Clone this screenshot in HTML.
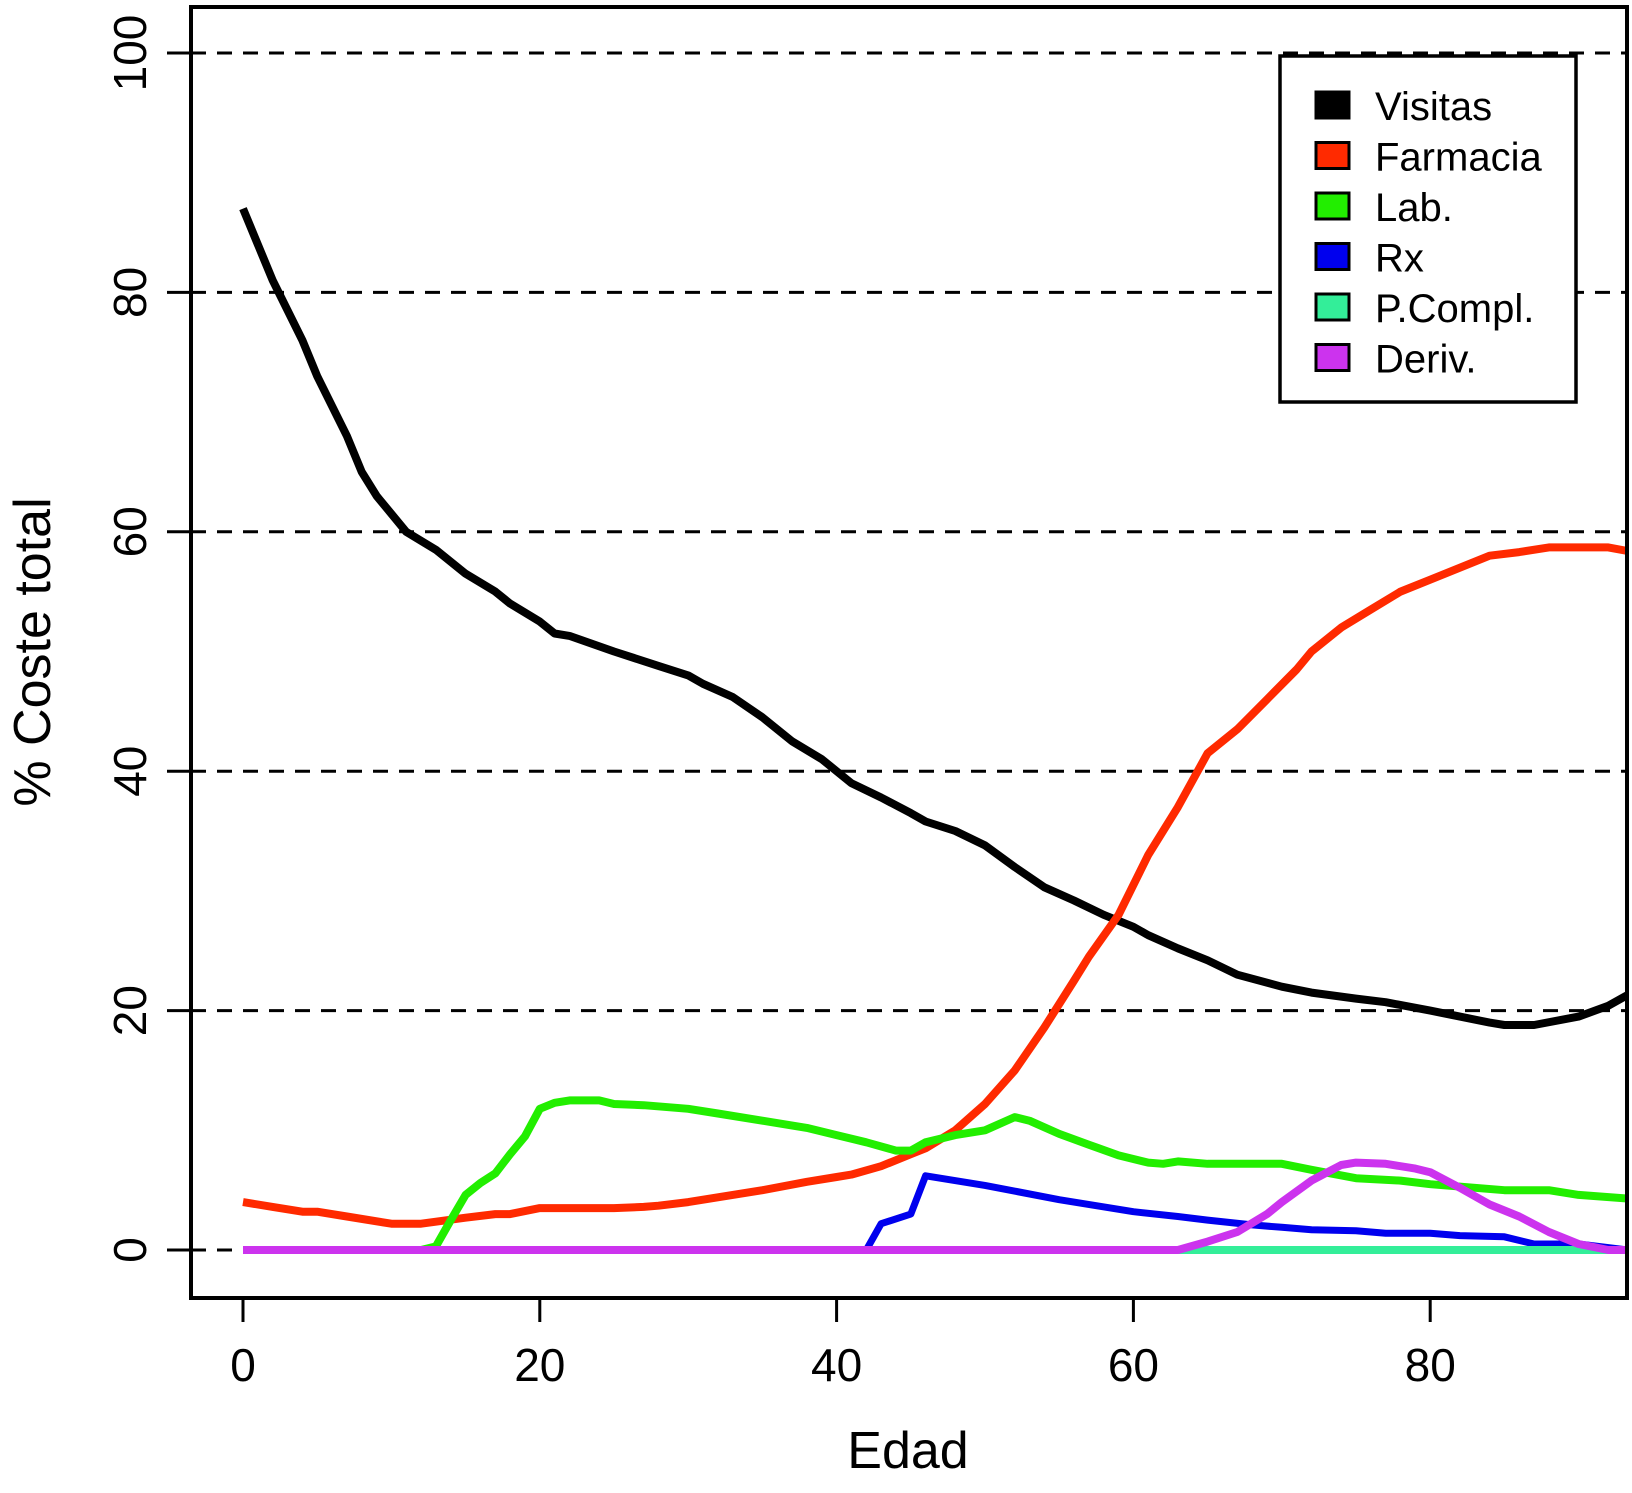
<!DOCTYPE html>
<html><head><meta charset="utf-8"><style>
html,body{margin:0;padding:0;background:#fff}
svg{display:block;font-family:"Liberation Sans",Arial,sans-serif}
</style></head><body>
<svg id="chart" width="1632" height="1493" viewBox="0 0 1632 1493"></svg>
<script>
const xTicks=[0,20,40,60,80];
const yTicks=[0,20,40,60,80,100];
const seriesNames=["Visitas","Farmacia","Lab.","Rx","P.Compl.","Deriv."];
const seriesColors=["#000000","#ff2a00","#22ee00","#0000ee","#33ee99","#cc33ee"];
const visitasX=[0,2,4,5,7,8,9,11,13,15,17,18,20,21,22,25,28,30,31,33,35,37,39,40,41,43,45,46,48,50,52,54,56,58,60,61,63,65,67,70,72,75,77,80,82,84,85,87,90,92,93.3];
const visitasY=[87,81,76,73,68,65,63,60,58.5,56.5,55,54,52.5,51.5,51.3,50,48.8,48,47.3,46.2,44.5,42.5,41,40,39,37.8,36.5,35.8,35,33.8,32,30.3,29.2,28,27,26.3,25.2,24.2,23,22,21.5,21,20.7,20,19.5,19,18.8,18.8,19.5,20.4,21.3];
const farmaciaX=[0,2,4,5,7,10,12,15,17,18,20,25,27,28,30,33,35,38,40,41,43,45,46,48,50,52,54,56,57,59,61,63,65,67,69,71,72,74,76,78,80,82,84,86,88,90,92,93.3];
const farmaciaY=[4,3.6,3.2,3.2,2.8,2.2,2.2,2.7,3,3,3.5,3.5,3.6,3.7,4,4.6,5,5.7,6.1,6.3,7,8,8.5,10,12.2,15,18.6,22.5,24.5,28,33,37,41.5,43.5,46,48.5,50,52,53.5,55,56,57,58,58.3,58.7,58.7,58.7,58.4];
const labX=[0,12,13,14,15,16,17,18,19,20,21,22,24,25,27,30,32,35,38,40,42,44,45,46,48,50,52,53,55,57,59,61,62,63,65,70,72,75,78,80,85,88,90,93.3];
const labY=[0,0,0.3,2.5,4.6,5.6,6.4,8,9.5,11.8,12.3,12.5,12.5,12.2,12.1,11.8,11.4,10.8,10.2,9.6,9,8.3,8.3,9,9.6,10,11.1,10.8,9.7,8.8,7.9,7.3,7.2,7.4,7.2,7.2,6.7,6,5.8,5.5,5,5,4.6,4.3];
const rxX=[0,42,43,45,46,50,55,60,63,65,68,70,72,75,77,80,82,85,87,90,93.3];
const rxY=[0,0,2.2,3,6.2,5.4,4.2,3.2,2.8,2.5,2.1,1.9,1.7,1.6,1.4,1.4,1.2,1.1,0.5,0.5,0];
const pcomplX=[0,93.3];
const pcomplY=[0,0];
const derivX=[0,63,65,67,69,70,72,74,75,77,79,80,82,84,86,88,90,92,93.3];
const derivY=[0,0,0.7,1.5,3,4,5.8,7.1,7.3,7.2,6.8,6.5,5.2,3.8,2.8,1.5,0.5,0,0];

const X0=243,XS=14.84,Y0=1250,YS=11.97;
const L=191,R=1627,T=7,B=1298;
const sx=v=>X0+v*XS, sy=v=>Y0-v*YS;
const svg=document.getElementById('chart');
const NS='http://www.w3.org/2000/svg';
function mk(tag,attrs,parent){const e=document.createElementNS(NS,tag);for(const k in attrs)e.setAttribute(k,attrs[k]);(parent||svg).appendChild(e);return e;}

const defs=mk('defs',{});
const cp=mk('clipPath',{id:'clip'},defs);
mk('rect',{x:L,y:T,width:R-L,height:B-T},cp);

const grid=mk('g',{'clip-path':'url(#clip)'});


yTicks.forEach(v=>{
  const l=mk('line',{x1:L,x2:R,y1:sy(v),y2:sy(v),stroke:'#000','stroke-width':3,'stroke-dasharray':'15 11'},grid);
  
  
});

const xs=[visitasX,farmaciaX,labX,rxX,pcomplX,derivX];
const ys=[visitasY,farmaciaY,labY,rxY,pcomplY,derivY];
const lines=mk('g',{'clip-path':'url(#clip)'});


[0,1,2,3,4,5].forEach(i=>{
  const pts=xs[i].map((x,j)=>sx(x).toFixed(1)+','+sy(ys[i][j]).toFixed(1)).join(' ');
  const p=mk('polyline',{points:pts,fill:'none',stroke:seriesColors[i],'stroke-width':i==3?7:8,'stroke-linejoin':'round'},lines);
  
  
});

const box=mk('rect',{x:L,y:T,width:R-L,height:B-T,fill:'none',stroke:'#000','stroke-width':4});



xTicks.forEach(v=>{
  const t=mk('line',{x1:sx(v),x2:sx(v),y1:B,y2:B+24,stroke:'#000','stroke-width':3});
  
  
  const tx=mk('text',{x:sx(v),y:1381,'font-size':46,'text-anchor':'middle'});
  tx.textContent=v;
  
  
});
yTicks.forEach(v=>{
  const t=mk('line',{x1:L-24,x2:L,y1:sy(v),y2:sy(v),stroke:'#000','stroke-width':3});
  
  
  const tx=mk('text',{x:146,y:sy(v),'font-size':46,'text-anchor':'middle',transform:'rotate(-90 146 '+sy(v)+')'});
  tx.textContent=v;
  
  
});

const xt=mk('text',{x:908,y:1468,'font-size':52,'text-anchor':'middle'});
xt.textContent='Edad';


const yt=mk('text',{x:50,y:652,'font-size':52,'text-anchor':'middle',transform:'rotate(-90 50 652)'});
yt.textContent='% Coste total';



const lg=mk('g',{});


mk('rect',{x:1280,y:56,width:296,height:346,fill:'#fff',stroke:'#000','stroke-width':3.5},lg);
seriesNames.forEach((n,i)=>{
  const yy=105+i*50.5;
  const g=mk('g',{},lg);
  
  
  mk('rect',{x:1316,y:yy-13,width:33,height:26,fill:seriesColors[i],stroke:'#000','stroke-width':3},g);
  const t=mk('text',{x:1375,y:yy+15,'font-size':40},g);
  t.textContent=n;
});
</script>
</body></html>
